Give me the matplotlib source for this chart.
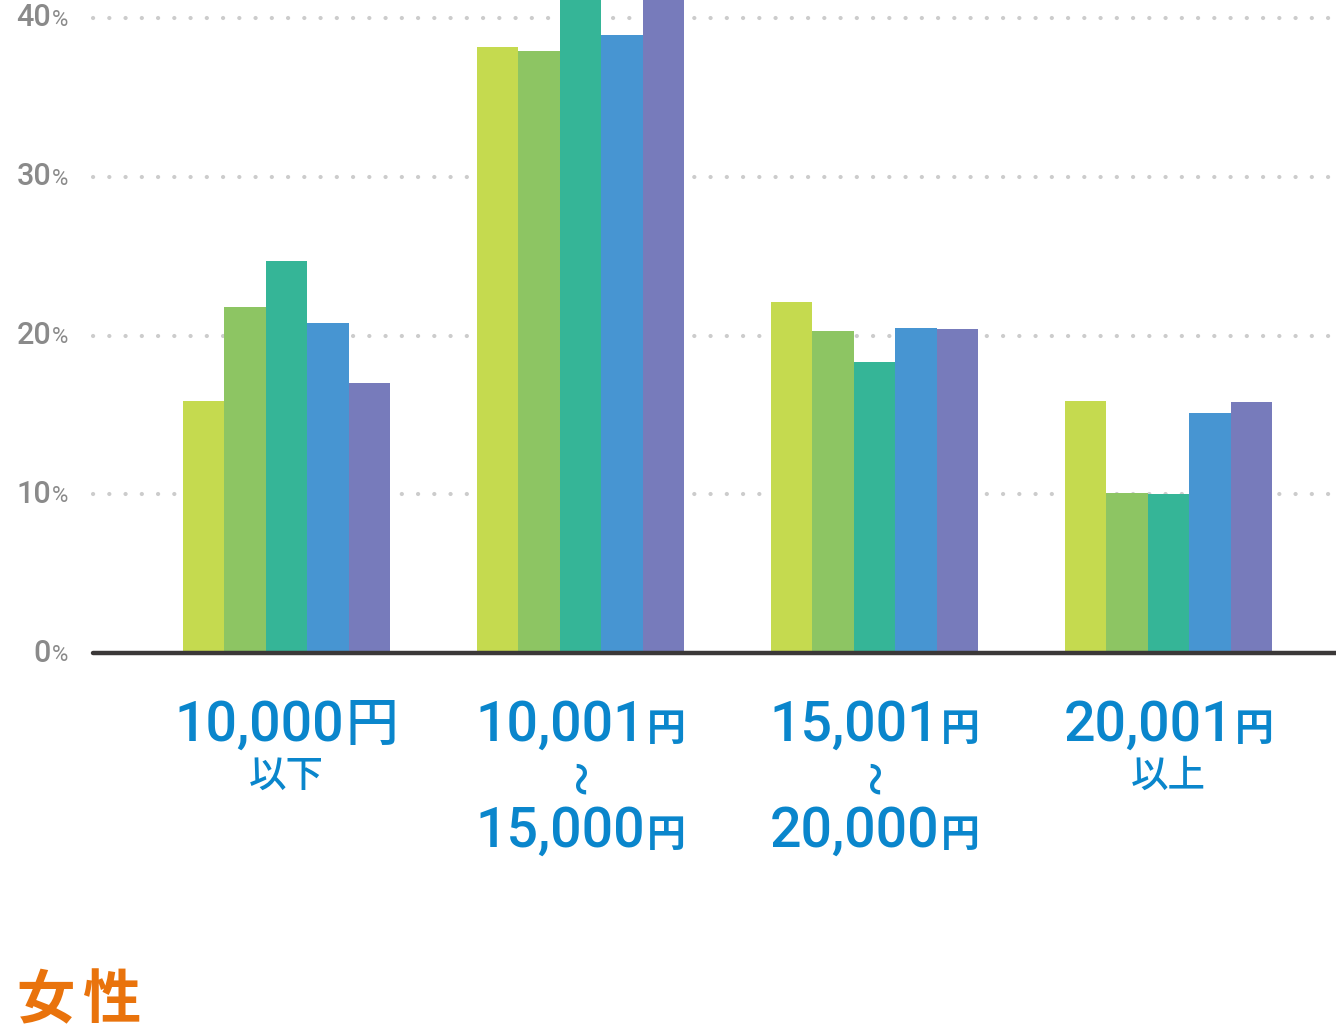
import matplotlib
matplotlib.use('Agg')
import matplotlib.pyplot as plt
import numpy as np

plt.rcParams['font.family'] = ['Roboto', 'Noto Sans CJK JP', 'DejaVu Sans']
plt.rcParams['lines.scale_dashes'] = False

# 金額区分
amounts = ['10,000', '10,001', '15,001', '20,001']
second_lines = ['以下', '〜', '〜', '以上']
third_lines = ['', '15,000', '20,000', '']

# 5系列の割合 (%)
s1 = [15.9, 38.2, 22.1, 15.9]
s2 = [21.8, 37.9, 20.3, 10.1]
s3 = [24.7, 42.0, 18.3, 10.0]
s4 = [20.8, 38.9, 20.5, 15.1]
s5 = [17.0, 42.5, 20.4, 15.8]
series = [s1, s2, s3, s4, s5]
colors = ['#c5da4f', '#8dc563', '#35b597', '#4795d2', '#777bbb']

y_ticks = [0, 10, 20, 30, 40]
title = '女性'

W, H = 1336, 1031
fig = plt.figure(figsize=(W / 100, H / 100), dpi=100)
fig.patch.set_facecolor('white')

# 座標変換用 (ピクセル)
gap = 294.0
c0 = 286.5
ppu = 15.875   # 1% あたりのピクセル
y0 = 653

ax = fig.add_axes([0, (H - y0) / H, 1, y0 / H])
ax.set_xlim(-c0 / gap, (W - c0) / gap)
ax.set_ylim(0, y0 / ppu)
ax.axis('off')

def px2x(p):
    return (p - c0) / gap

x = np.arange(len(amounts))
bw = 41.4 / gap
grey = '#8a8a8a'

# グリッド(点線)と目盛りラベル
for t in y_ticks:
    if t > 0:
        ax.hlines(t, px2x(93), px2x(W + 10), colors='#cccccc', lw=3.0,
                  linestyles=[(0, (0.1, 11.6))], capstyle='round', zorder=1)
    ax.text(px2x(51), t, str(t), ha='right', va='center', fontsize=22,
            color=grey, weight='medium', zorder=5)
    ax.text(px2x(52), t - 0.15, '%', ha='left', va='center', fontsize=16,
            color=grey, zorder=5)

for i, (vals, col) in enumerate(zip(series, colors)):
    ax.bar(x + (i - 2) * bw, vals, width=bw, color=col, zorder=3, linewidth=0)

ax.plot([px2x(93), px2x(W + 10)], [0, 0], color='#3b3838', lw=3.2,
        solid_capstyle='round', zorder=4, clip_on=False)

# カテゴリラベル
blue = '#0a86cc'
renderer = fig.canvas.get_renderer()

def money(cx, base, num, yen_size, yen_weight):
    t1 = fig.text(0, 1 - base / H, num, fontsize=40, color=blue, va='baseline',
                  ha='left', weight='medium')
    t2 = fig.text(0, 1 - base / H, '円', fontsize=yen_size, color=blue, va='baseline',
                  ha='left', weight=yen_weight, family='Noto Sans CJK JP')
    w1 = t1.get_window_extent(renderer).width
    w2 = t2.get_window_extent(renderer).width
    left = cx - (w1 + w2 + 2) / 2
    t1.set_x(left / W)
    t2.set_x((left + w1 + 2) / W)

for i in range(len(amounts)):
    cx = c0 + i * gap
    if i == 0:
        money(cx, 741, amounts[i], 38, 'medium')
    else:
        money(cx, 741, amounts[i], 28, 'bold')
    if second_lines[i] == '〜':
        fig.text(cx / W, 1 - 775 / H, '~', rotation=90, fontsize=40, color=blue,
                 ha='center', va='center')
        money(cx, 847, third_lines[i], 28, 'bold')
    else:
        fig.text(cx / W, 1 - 776 / H, second_lines[i], fontsize=27, color=blue,
                 ha='center', va='center', family='Noto Sans CJK JP', weight='medium')

# タイトル(字間あり)
for k, ch in enumerate(title):
    fig.text((16 + k * 67) / W, 1 - 1001 / H, ch, fontsize=42, color='#e9730c',
             ha='left', va='center', family='Noto Sans CJK JP', weight='bold')

fig.savefig('out.png', dpi=100)
